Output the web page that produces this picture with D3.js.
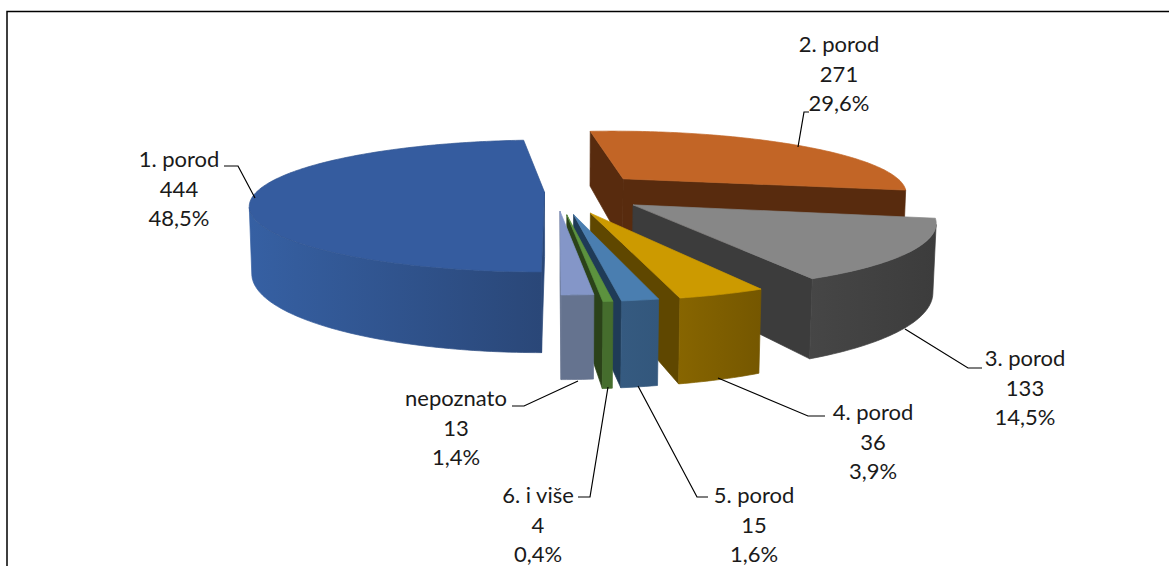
<!DOCTYPE html>
<html><head><meta charset="utf-8">
<script src="https://cdn.jsdelivr.net/npm/d3@7/dist/d3.min.js"></script>
<style>html,body{margin:0;padding:0;background:#fff;overflow:hidden}svg{display:block}text{font-family:Lato,"Open Sans",sans-serif;font-size:22px;fill:#1a1a1a}</style>
</head><body><svg id="c" width="1169" height="566"></svg>
<script>
const categories = ["1. porod","2. porod","3. porod","4. porod","5. porod","6. i više","nepoznato"];
const values = [444,271,133,36,15,4,13];
const topColors = ["#355c9f","#c26526","#878787","#cc9a00","#4a7eb0","#5c923e","#8496c8"];
const sideColors = ["#2a4778","#582b0e","#3c3c3c","#5f4700","#1f3b57","#2b4219","#65738f"];
const wallLight = ["#3660a3","#582b0e","#464646","#876500","#355a80","#456d2d","#65738f"];
const wallDark = ["#2a4778","#582b0e","#3c3c3c","#755700","#33577c","#456d2d","#65738f"];
const explode = [0.04,0.33,0.33,0.35,0.36,0.36,0.31];
const widthScale = [288,287,281,273,271,271,272];
const depthScale = [63,62,62,60,59,59,58];
const depthPersp = [0.21,0.2,0.2,0.2,0.2,0.2,0.2];
const wallHeight = [65,68,64,65,65,65,64];
const drawOrder = [1,0,2,3,4,5,6];
// layout: label anchor (centre x, first baseline y) and leader polyline per slice
const labelPos = [[179,167],[839,52],[1025,366],[873,420],[754,503],[538,503],[456,406]];
const leaders = [
 [[224,166],[238,166],[255,198]],
 [[809,112],[804,112],[798,147]],
 [[905,329],[968,368],[982,368]],
 [[718,378],[808,416],[825,416]],
 [[638,386],[697,497],[708,497]],
 [[608,387],[590,497],[578,497]],
 [[578,381],[524,406],[512,406]]
];
const view = {cx:556,cy:192,m:0.008};
const rad = Math.PI/180;

function project(i,X,Y,Z){ // X right, Y toward viewer, Z = 0 top .. -1 bottom
  const w = 1 - depthPersp[i]*Y - view.m*Z;
  return [view.cx + widthScale[i]*X/w, view.cy + (depthScale[i]*Y - wallHeight[i]*Z)/w];
}
const svg = d3.select("#c");
const defs = svg.append("defs");
svg.append("path").attr("d","M7,566V11.5H1169").attr("fill","none").attr("stroke","#000").attr("stroke-width",1.5);

const pie = d3.pie().sort(null).startAngle(180*rad).endAngle(540*rad);
const arcs = pie(values);
const line = d3.line();
const area2 = pts => { let s=0; pts.forEach((p,i)=>{const q=pts[(i+1)%pts.length]; s+=p[0]*q[1]-q[0]*p[1];}); return s; };
const pct = d3.formatLocale({decimal:",",thousands:".",grouping:[3],currency:["",""]}).format(".1%");
const total = d3.sum(values);

drawOrder.forEach(i=>{
  const d = arcs[i], mid=(d.startAngle+d.endAngle)/2, e=explode[i];
  const ox=e*Math.sin(mid), oy=-e*Math.cos(mid);
  const P=(ang,r,z)=>project(i,ox+r*Math.sin(ang), oy-r*Math.cos(ang), z);
  const g = svg.append("g").attr("class","slice");
  const steps = Math.max(2,Math.ceil((d.endAngle-d.startAngle)/(1*rad)));
  const angs = d3.range(steps+1).map(t=>d.startAngle+(d.endAngle-d.startAngle)*t/steps);
  const faces = [
    [P(d.startAngle,0,0),P(d.startAngle,1,0),P(d.startAngle,1,-1),P(d.startAngle,0,-1)],
    [P(d.endAngle,1,0),P(d.endAngle,0,0),P(d.endAngle,0,-1),P(d.endAngle,1,-1)]
  ].filter(f=>area2(f)<0);
  g.selectAll("path.face").data(faces).join("path").attr("class","face")
    .attr("d",f=>line(f)+"Z").attr("fill",sideColors[i]).attr("stroke",sideColors[i]).attr("stroke-width",0.7);
  const vis = angs.slice(0,-1).map((a,t)=>[a,angs[t+1]])
    .filter(([a,b])=>area2([P(a,1,0),P(b,1,0),P(b,1,-1),P(a,1,-1)])<0);
  if(vis.length){
    const arcA=[vis[0][0],...vis.map(v=>v[1])];
    const poly=[...arcA.map(a=>P(a,1,0)),...arcA.slice().reverse().map(a=>P(a,1,-1))];
    const xr=d3.extent(poly,p=>p[0]);
    const gid="wall"+i;
    const lg=defs.append("linearGradient").attr("id",gid).attr("gradientUnits","userSpaceOnUse")
      .attr("x1",xr[0]).attr("x2",xr[1]).attr("y1",0).attr("y2",0);
    lg.append("stop").attr("offset",0).attr("stop-color",wallLight[i]);
    lg.append("stop").attr("offset",1).attr("stop-color",wallDark[i]);
    g.append("path").attr("class","wall").attr("d",line(poly)+"Z").attr("fill",`url(#${gid})`)
      .attr("stroke",`url(#${gid})`).attr("stroke-width",0.7);
  }
  const top=[P(d.startAngle,0,0),...angs.map(a=>P(a,1,0))];
  g.append("path").attr("d",line(top)+"Z").attr("fill",topColors[i])
    .attr("stroke",d3.color(topColors[i]).darker(i==0?0.25:0).formatHex()).attr("stroke-width",0.7);
});

svg.selectAll("path.leader").data(leaders).join("path").attr("class","leader")
  .attr("d",l=>line(l)).attr("fill","none").attr("stroke","#000").attr("stroke-width",1.2);

categories.forEach((c,i)=>{
  const t=svg.append("text").attr("text-anchor","middle");
  [c,values[i],pct(values[i]/total)].forEach((s,j)=>{
    t.append("tspan").attr("x",labelPos[i][0]).attr("y",labelPos[i][1]+j*29.5).text(s);
  });
});
</script></body></html>
